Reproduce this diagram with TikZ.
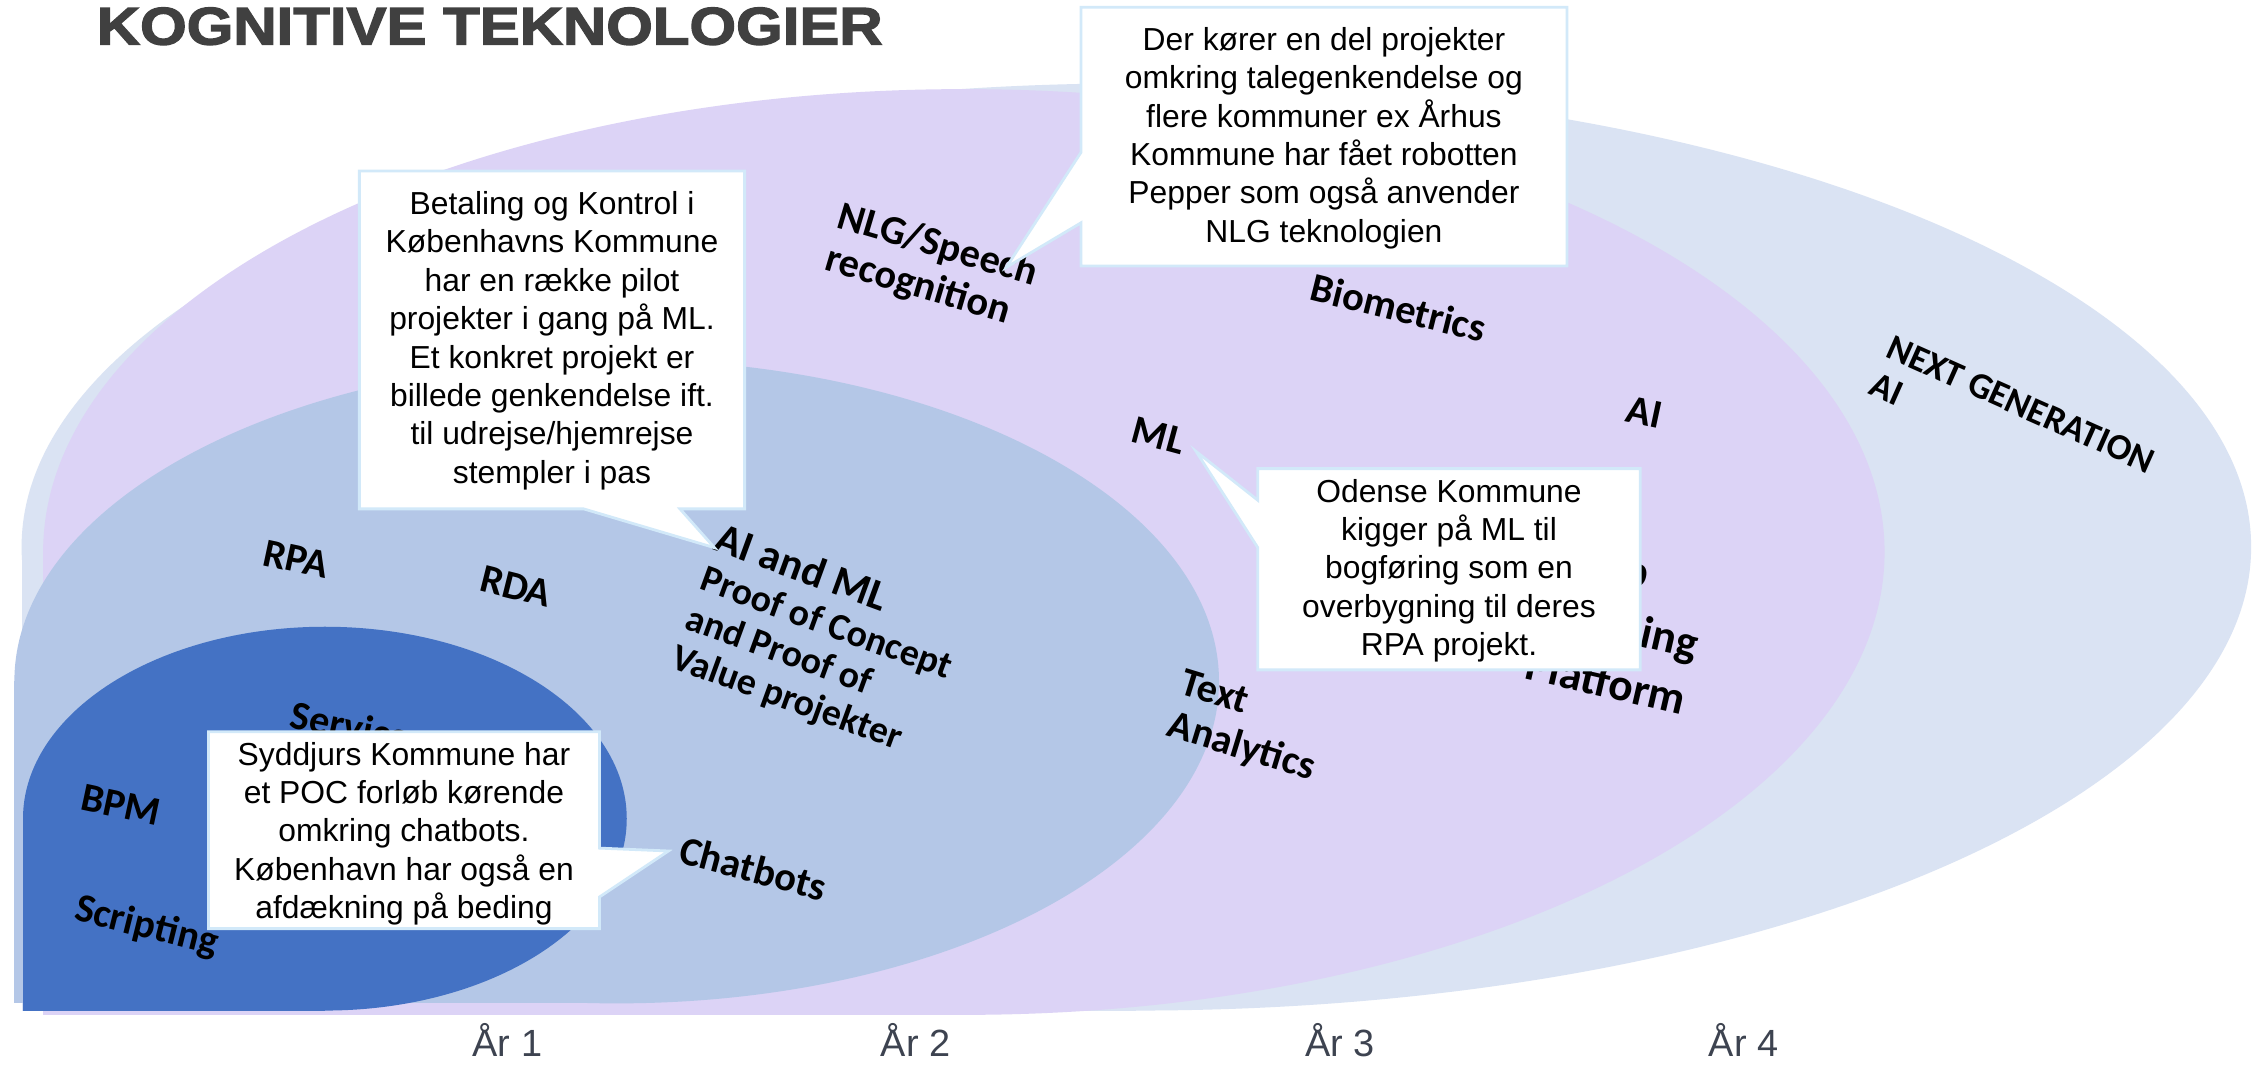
\documentclass[tikz,border=0pt]{standalone}
\usepackage{fontspec}
\setmainfont{Liberation Sans}
\newfontfamily\lblfont{Carlito}
\newfontfamily\titlefont{Liberation Sans Bold}[FakeStretch=1.13,FakeBold=2.5]
\definecolor{outerc}{HTML}{DAE3F3}
\definecolor{purplec}{HTML}{DCD3F6}
\definecolor{midc}{HTML}{B4C7E7}
\definecolor{darkc}{HTML}{4472C4}
\definecolor{calloutedge}{HTML}{D2E9F9}
\definecolor{titlegray}{HTML}{404040}
\definecolor{yeargray}{HTML}{3D4350}
\begin{document}
\begin{tikzpicture}[x=0.02cm,y=-0.02cm,
  note/.style={font=\fontsize{12.6}{15.2}\selectfont, align=center, inner sep=0},
  callout/.style={fill=white, draw=calloutedge, line width=1.1pt, line join=miter},
  lbl/.style={font=\lblfont\bfseries\fontsize{16}{17.5}\selectfont, inner sep=0},
  year/.style={font=\fontsize{15}{18}\selectfont, text=yeargray, anchor=base, inner sep=0}]
\useasboundingbox (0,0) rectangle (1568,742);
\fill[white] (0,0) rectangle (1568,742);

% nested regions: ellipses with a squared lower-left quadrant
\fill[outerc] (790.5,380.5) ellipse [x radius=775.5, y radius=322.5];
\fill[outerc] (15,380.5) rectangle (790.5,703);
\fill[purplec] (670.5,384) ellipse [x radius=640.5, y radius=322];
\fill[purplec] (30,384) rectangle (670.5,706);
\fill[midc] (429,474) ellipse [x radius=419, y radius=224];
\fill[midc] (10,474) rectangle (429,698);
\fill[darkc] (226,569.5) ellipse [x radius=210, y radius=133.5];
\fill[darkc] (16,569.5) rectangle (226,703);

% title
\node[anchor=base west, inner sep=0, text=titlegray, font=\titlefont\fontsize{21}{24}\selectfont] (title) at (67,31) {KOGNITIVE TEKNOLOGIER};

% technology labels
\node[lbl, align=left, rotate=-16.5] (nlg) at (648,186) {NLG/Speech\\recognition};
\node[lbl, rotate=-14] (bio) at (973,214) {Biometrics};
\node[lbl, rotate=-12] (ai) at (1144,287) {AI};
\node[lbl, align=left, rotate=-24, font=\lblfont\bfseries\fontsize{14.5}{16}\selectfont] (nextgen) at (1400,294) {NEXT GENERATION\\AI};
\node[lbl, rotate=-15] (ml) at (806,303) {ML};
\node[lbl, align=left, rotate=-13, font=\lblfont\bfseries\fontsize{18}{22.7}\selectfont] (platform) at (1126,436) {Deep\\Learning\\Platform};
\node[lbl, rotate=-12] (rpa) at (206,389) {RPA};
\node[lbl, rotate=-14] (rda) at (359,408) {RDA};
\node[lbl, align=left, rotate=-20, font=\lblfont\bfseries\fontsize{15}{16.5}\selectfont] (poc) at (570,447) {{\fontsize{17}{18}\selectfont AI and ML}\\Proof of Concept\\and Proof of\\Value projekter};
\node[lbl, align=left, rotate=-17] (text) at (868,506) {Text\\Analytics};
\node[lbl, rotate=-15] (chat) at (524,604) {Chatbots};
\node[lbl, rotate=-12] (bpm) at (84,560) {BPM};
\node[lbl, rotate=-14] (script) at (102,645) {Scripting};
\node[lbl, rotate=-12] (service) at (244,505) {Service};

% callout pointer tips
\coordinate (t1) at (700,186);
\coordinate (t2) at (497,381);
\coordinate (t3) at (832,314);
\coordinate (t4) at (465,592);

% callouts
\path[callout] (752,5) -- (1090,5) -- (1090,185) -- (752,185) -- (752,155) -- (t1) -- (752,106) -- cycle;
\path[callout] (250,119) -- (518,119) -- (518,354) -- (473,354) -- (t2) -- (406,354) -- (250,354) -- cycle;
\path[callout] (875,326) -- (1141,326) -- (1141,466) -- (875,466) -- (875,381) -- (t3) -- (875,348) -- cycle;
\path[callout] (145,509) -- (417,509) -- (417,590) -- (t4) -- (417,624) -- (417,646) -- (145,646) -- cycle;

\node[note] (n1) at (921,96) {Der kører en del projekter\\omkring talegenkendelse og\\flere kommuner ex Århus\\Kommune har fået robotten\\Pepper som også anvender\\NLG teknologien};
\node[note] (n2) at (384,237) {Betaling og Kontrol i\\Københavns Kommune\\har en række pilot\\projekter i gang på ML.\\Et konkret projekt er\\billede genkendelse ift.\\til udrejse/hjemrejse\\stempler i pas};
\node[note] (n3) at (1008,397) {Odense Kommune\\kigger på ML til\\bogføring som en\\overbygning til deres\\RPA projekt.};
\node[note] (n4) at (281,580) {Syddjurs Kommune har\\et POC forløb kørende\\omkring chatbots.\\København har også en\\afdækning på beding};

% year axis
\node[year] (y1) at (353,735) {År 1};
\node[year] (y2) at (637,735) {År 2};
\node[year] (y3) at (932,735) {År 3};
\node[year] (y4) at (1213,735) {År 4};
\end{tikzpicture}
\end{document}
